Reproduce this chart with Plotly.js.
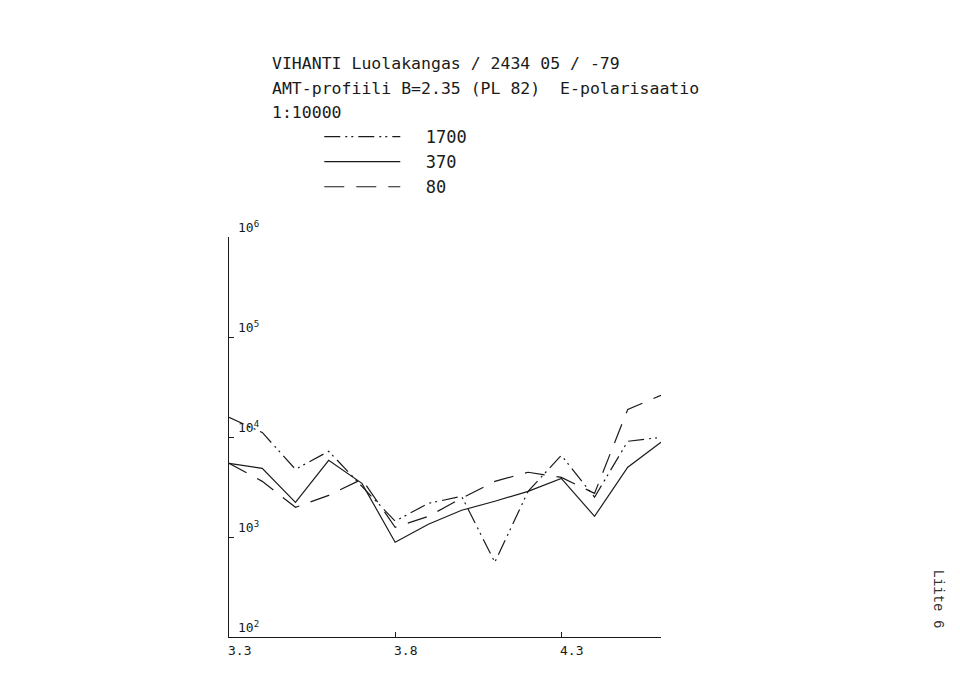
<!DOCTYPE html>
<html>
<head>
<meta charset="utf-8">
<script src="https://cdn.plot.ly/plotly-3.0.1.min.js"></script>
<style>html,body{margin:0;padding:0;background:#fff;}#chart{width:960px;height:681px;}</style>
</head>
<body>
<div id="chart"></div>
<script>
// x positions (horizontal axis, as labelled 3.3 ... 4.6)
const xPos = [3.3, 3.4, 3.5, 3.6, 3.7, 3.8, 3.9, 4.0, 4.1, 4.2, 4.3, 4.4, 4.5, 4.6];
// apparent resistivity values (log axis)
const rho1700 = [15700, 11100, 4750, 7200, 3210, 1440, 2170, 2550, 560, 2860, 6560, 2500, 9060, 9930];
const rho370  = [5460, 4860, 2220, 5850, 3440, 885, 1340, 1850, 2280, 2860, 3860, 1610, 4980, 8850];
const rho80   = [5460, 3600, 1980, 2610, 3780, 1250, 1610, 2440, 3600, 4440, 3950, 2730, 18900, 26100];
const seriesNames = ['  1700', '  370', '  80'];
const xTickVals = [3.3, 3.8, 4.3];
const xTickText = ['3.3', '3.8', '4.3'];
const yTickVals = [100, 1000, 10000, 100000, 1000000];
const yTickText = ['10<sup>2</sup>', '10<sup>3</sup>', '10<sup>4</sup>', '10<sup>5</sup>', '10<sup>6</sup>'];
const titleLines = ['VIHANTI Luolakangas / 2434 05 / -79', 'AMT-profiili B=2.35 (PL 82)  E-polarisaatio', '1:10000'];
const sideNote = 'Liite 6';

const ink = '#1a1a1a';
const mono = 'DejaVu Sans Mono, monospace';
const yRangeLog = [2, 6];

const traces = [
  {x: xPos, y: rho1700, name: seriesNames[0], mode: 'lines',
   line: {color: ink, width: 1.2, dash: '16px,5px,2px,4px,2px,5px'}},
  {x: xPos, y: rho370, name: seriesNames[1], mode: 'lines',
   line: {color: ink, width: 1.2}},
  {x: xPos, y: rho80, name: seriesNames[2], mode: 'lines',
   line: {color: ink, width: 1.2, dash: '20px,12px'}}
];

const annotations = [];
titleLines.forEach((t, i) => {
  annotations.push({text: t, xref: 'paper', yref: 'paper', x: 0.095, y: [1.433, 1.372, 1.311][i],
    xanchor: 'left', yanchor: 'middle', showarrow: false, font: {family: mono, size: 16.5, color: ink}});
});
// y tick labels: inside the axes, just above each tick (paper position of each tick on the log axis)
yTickVals.forEach((v, i) => {
  const frac = (Math.log10(v) - yRangeLog[0]) / (yRangeLog[1] - yRangeLog[0]);
  annotations.push({text: yTickText[i], xref: 'paper', yref: 'paper', x: 0.0162, y: frac + 0.025,
    xanchor: 'left', yanchor: 'middle', showarrow: false, font: {family: mono, size: 13, color: ink}});
});
// x tick labels: below the axis, starting at the tick
xTickVals.forEach((v, i) => {
  annotations.push({text: xTickText[i], xref: 'x', yref: 'paper', x: v, y: -0.034,
    xanchor: 'left', yanchor: 'middle', showarrow: false, xshift: -3, font: {family: mono, size: 13, color: ink}});
});
annotations.push({text: sideNote, xref: 'paper', yref: 'paper', x: 1.641, y: 0.094, xanchor: 'center', yanchor: 'middle',
  textangle: 90, showarrow: false, font: {family: 'Liberation Mono, monospace', size: 14, color: '#333'}});

const layout = {
  width: 960, height: 681,
  margin: {l: 229, r: 299, t: 237, b: 44},
  paper_bgcolor: '#fff', plot_bgcolor: '#fff',
  font: {family: mono, color: ink},
  showlegend: true,
  legend: {x: 0.209, xanchor: 'left', y: 1.295, yanchor: 'top',
           font: {family: mono, size: 17, color: ink},
           itemwidth: 76, bgcolor: 'rgba(0,0,0,0)', tracegroupgap: 0},
  xaxis: {range: [3.3, 4.6], showline: true, linecolor: ink, linewidth: 1.2,
          ticks: 'inside', ticklen: 5, tickcolor: ink, tickwidth: 1,
          tickvals: xTickVals, showticklabels: false,
          showgrid: false, zeroline: false},
  yaxis: {type: 'log', range: yRangeLog, showline: true, linecolor: ink, linewidth: 1.2,
          ticks: 'inside', ticklen: 5, tickcolor: ink, tickwidth: 1,
          tickvals: yTickVals, showticklabels: false,
          showgrid: false, zeroline: false},
  annotations: annotations
};

Plotly.newPlot('chart', traces, layout, {displayModeBar: false, staticPlot: true});
</script>
</body>
</html>
